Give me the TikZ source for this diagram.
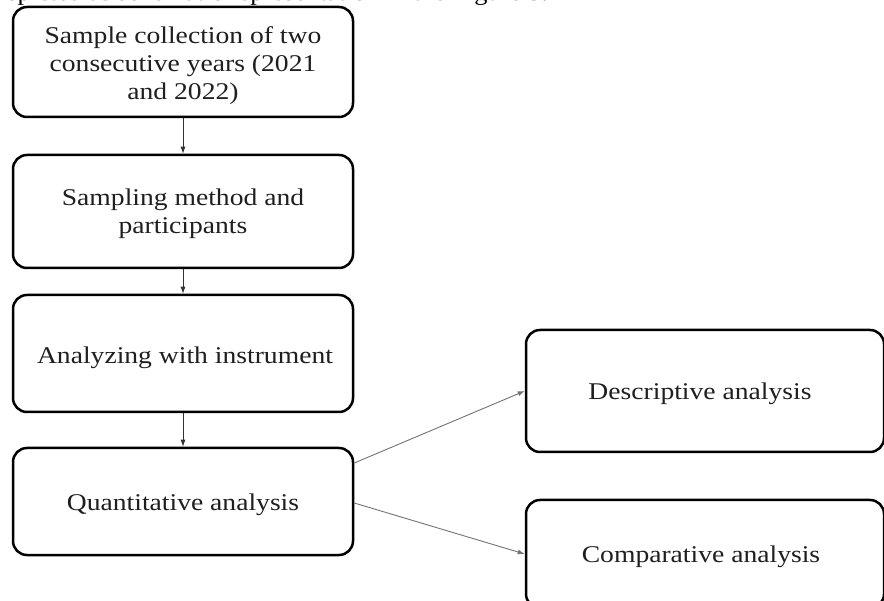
\documentclass[tikz,border=0pt]{standalone}
\usepackage{fontspec}
\setmainfont{Liberation Serif}[FakeStretch=1.15]
\usetikzlibrary{arrows.meta}
\begin{document}
\begin{tikzpicture}[x=1pt,y=-1pt,
  box/.style={draw=black, line width=2.5pt, rounded corners=14pt, fill=white, inner sep=0pt},
  txt/.style={inner sep=0pt, align=center, text=black!88, font=\fontsize{24}{28.3}\selectfont},
  vline/.style={draw=black!80, line width=0.9pt, -{Latex[length=7pt,width=5pt]}},
  dline/.style={draw=black!55, line width=0.9pt, -{Latex[length=7pt,width=5pt]}}]
\useasboundingbox (0,0) rectangle (884,601);
\clip (0,0) rectangle (884,601);
\fill[white] (0,0) rectangle (884,601);

\node[txt, anchor=base east, font=\fontsize{23}{27}\selectfont, text=black] (cap) at (548,0.5) {depicted as schematic representation in the Figure 3.};

% boxes
\node[box, minimum width=340pt, minimum height=110pt] (b1) at (183,62) {};
\node[box, minimum width=340pt, minimum height=113pt] (b2) at (183,211.5) {};
\node[box, minimum width=340pt, minimum height=117pt] (b3) at (183,353.5) {};
\node[box, minimum width=340pt, minimum height=107pt] (b4) at (183,501.5) {};
\node[box, minimum width=358pt, minimum height=122pt] (d) at (705,391) {};
\node[box, minimum width=358pt, minimum height=108pt] (c) at (705,554) {};

% texts
\node[txt] (t1) at (183,65.6) {Sample collection of two\\consecutive years (2021\\and 2022)};
\node[txt] (t2) at (183,213.6) {Sampling method and\\participants};
\node[txt] (t3) at (185,357.9) {Analyzing with instrument};
\node[txt] (t4) at (183,505.1) {Quantitative analysis};
\node[txt] (t5) at (700,393.9) {Descriptive analysis};
\node[txt] (t6) at (701,556.3) {Comparative analysis};

% connectors
\draw[vline] (b1.south) -- (b2.north);
\draw[vline] (b2.south) -- (b3.north);
\draw[vline] (b3.south) -- (b4.north);
\draw[dline] ([yshift=38.5pt]b4.east) -- (d.west);
\draw[dline] ([yshift=-1.5pt]b4.east) -- (c.west);
\end{tikzpicture}
\end{document}
